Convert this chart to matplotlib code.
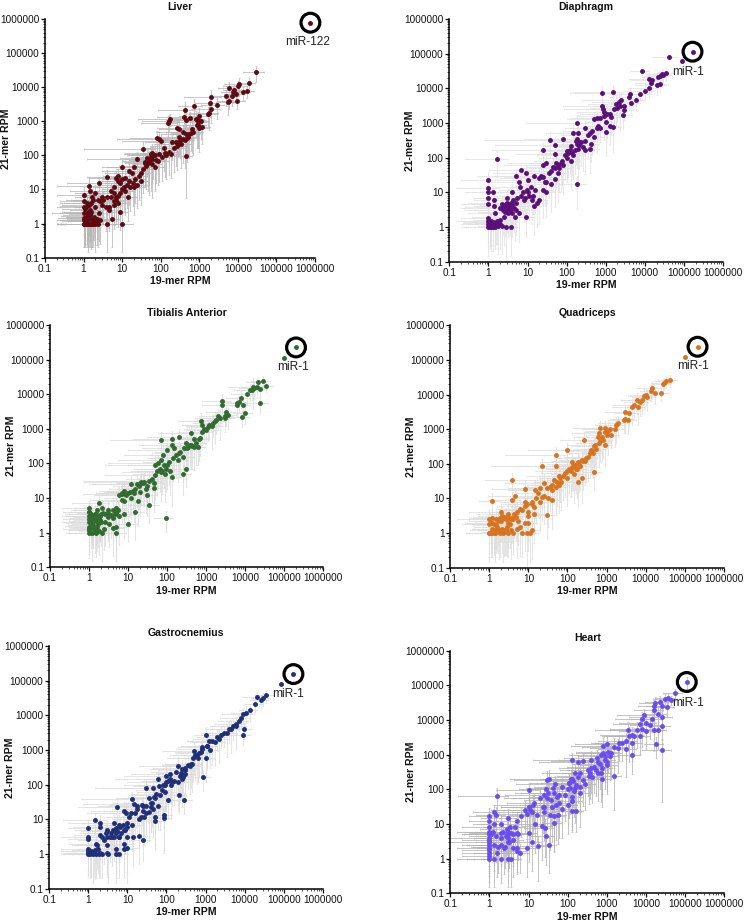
import numpy as np
import matplotlib
matplotlib.use("Agg")
import matplotlib.pyplot as plt
from matplotlib.ticker import LogLocator, NullFormatter

plt.rcParams['font.family'] = ['Liberation Sans', 'DejaVu Sans']

tick_values = [0.1, 1, 10, 100, 1000, 10000, 100000, 1000000]
tick_labels = ['0.1', '1', '10', '100', '1000', '10000', '100000', '1000000']
x_label = '19-mer RPM'
y_label = '21-mer RPM'

# ---------- Liver ----------
liver_x = [760000,30000,19000,17000,14000,11000,10000,9500,9000,8000,
7500,7000,6000,6000,5500,4800,2800,2000,2000,1900,
1800,1700,720,420,1000,900,1100,800,1200,900,
1000,580,400,450,170,160,150,300,270,440,
380,300,320,420,500,600,650,250,200,280,
440,90,100,80,60,35,120,130,160,90,
70,55,50,48,60,70,55,45,38,40,
25,20,10,15,12,8,18,22,28,30,
20,15,10,8,6,7,4,2.5,1.4,5,
6,10,12,9,14,7,6,8,4,3,
2,1.7,1,1.5,1.2,1,4.5,3,9,10,
4,5.5,2.5,2,1.5,1.2,1,1,1.1,1.3,
1.6,2,2.4,1,1.2,1.5,1.8,2.2,1.4,1.1]
liver_y = [780000,28000,13500,8000,7000,12000,11000,3900,6200,8500,
7000,5500,9500,3900,3800,5600,3000,5200,2300,3400,
1800,1600,2800,2200,1400,1100,1000,1200,700,800,
650,1250,1300,1100,1200,1000,900,600,650,430,
500,350,280,280,350,450,600,250,240,220,
95,300,270,330,120,155,170,120,130,110,
100,90,70,60,55,45,110,85,65,60,
80,45,45,35,22,25,30,20,25,18,
12,18,20,18,12,22,24,15,13,9,
8,10,9,15,6,6,3.5,4,6,6,
8,6,7,9,4,4.5,2.5,3.5,2.2,1,
1,1.4,2,3,2.5,2,2,1.5,1.2,1,
1,1,1,1,1.6,1.4,1.3,1.4,1.9,2.6]
liver_xe = [0,55,50,50,50,60,60,60,50,50,
50,50,50,50,50,50,60,80,70,60,
70,70,60,80,70,70,60,70,60,60,
60,70,80,70,85,80,80,70,70,60,
80,70,70,70,70,70,60,70,80,70,
50,92,90,80,80,97,70,70,70,80,
80,70,70,70,70,70,80,80,70,70,
95,80,70,80,80,60,80,70,60,60,
80,80,70,70,70,80,70,85,85,70,
80,70,70,60,60,60,60,60,70,80,
70,50,80,70,80,75,60,60,50,90,
60,60,60,70,70,80,85,70,75,80,
70,60,50,80,70,75,70,60,70,75]
liver_ye = [0,50,40,40,40,50,40,40,40,40,
50,50,50,40,60,50,60,60,60,60,
70,60,60,70,70,70,70,70,70,80,
80,50,50,60,40,50,60,80,80,80,
60,70,70,85,70,70,80,80,70,60,
94,60,60,60,80,60,80,80,80,85,
90,90,90,85,90,80,60,70,80,80,
60,70,60,70,80,60,70,80,80,80,
85,80,70,70,70,60,60,60,70,70,
80,80,80,70,80,80,80,80,70,70,
70,70,70,70,70,70,70,70,70,85,
85,85,85,80,80,80,75,70,80,85,
82,85,80,80,80,80,75,75,75,70]
liver_more_x = [1,1.1,1.2,1.3,1.4,1.5,1.6,1.7,1.8,2,
1,1.1,1.2,1.3,1.4,1.5,1.6,1.9,2.2,2.6,
1,1.2,1.4,1.6,1.8,2.3,2.7,3.2,3.8,4.5,
5,6,7,8,9,11,13,16,19,24,
30,35,42,50,58,65,75,85,110,140,
180,220,260,330,380,480,550,700,850,950]
liver_more_y = [1,1,1,1,1,1,1,1,1,1.2,
1.3,1.5,1.3,1.7,2.2,1.8,2.2,1.6,1.2,1.3,
3,3.2,3.4,4,5,5,4.5,5,3,3,
6,4.5,5,6.5,8,12,14,12,16,14,
30,40,50,70,80,100,75,70,90,100,
110,160,190,220,300,330,420,500,800,950]

# ---------- Diaphragm ----------
dia_x = [166000,41000,87000,8500,27000,24000,22000,30000,35000,13000,
15000,14000,25000,20000,13000,10000,7500,4300,800,1500,
4000,6000,2500,2200,4500,3000,2000,3000,1600,800,
850,900,1300,2700,1400,1000,700,600,500,1300,
1500,1000,650,180,700,300,200,150,400,500,
200,300,38,80,420,400,300,200,180,130,
100,150,100,130,50,25,1.7,50,180,70,
60,80,50,30,25,40,60,25,20,15,
50,30,40,30,25,7,9,5,6,10,
1,1,1,1.3,1,1.4,1,1.4,3,4,
7,10,14,20,15,8,5,3,2.5,3,
2,4,3.2,2.5,4,6,9,1.5,2.8,3.8,
1,1,1.2,1.5,1.8,2.2,1.1,1.3,1.6,2]
dia_y = [114000,81000,60000,31000,26000,22000,21000,24000,27000,19000,
17000,14000,13000,12500,10500,8500,7000,7000,7200,8000,
5500,4500,4500,4000,3800,3000,2700,2400,2500,3000,
2500,2100,1800,1700,1500,1100,1400,1400,1300,800,
750,550,800,1000,700,700,500,500,500,400,
300,300,320,350,250,180,170,180,250,220,
160,120,100,80,230,170,92,130,17,70,
60,60,50,70,60,40,35,28,26,30,
25,20,18,10,12,45,35,30,20,22,
23,13,10,10,7,6,4.5,4,7,10,
8,10,8,6,4,6,5,5,3.8,3,
3.5,3.5,2.5,2,2.5,2.5,2,2.5,1,1,
1.5,1,1.2,1,1.1,1.1,1,1.4,1.3,1.2]
dia_xe = [0,60,0,50,60,60,60,60,50,70,
70,60,60,70,70,70,70,70,85,90,
70,70,90,80,70,70,80,70,80,90,
90,80,70,70,70,70,70,80,80,60,
60,60,60,95,70,70,70,80,70,70,
80,80,98,90,60,70,70,70,70,80,
80,70,80,70,97,95,85,90,70,80,
80,80,85,90,90,85,80,90,90,90,
80,80,80,70,70,85,85,90,80,85,
80,85,75,70,60,70,80,70,85,85,
80,80,70,60,60,70,85,90,90,92,
90,85,80,85,80,70,60,80,60,60,
85,80,75,70,70,60,75,70,70,60]
dia_ye = [5,0,0,40,40,40,40,40,40,50,
50,50,40,50,50,40,40,50,60,60,
50,50,60,60,50,60,60,50,60,60,
70,70,70,60,70,70,70,60,60,70,
80,80,60,70,60,60,70,70,70,60,
70,70,70,70,70,80,80,90,80,80,
85,80,80,85,70,60,70,70,80,85,
80,85,85,70,70,80,85,80,80,70,
85,85,85,80,85,60,70,60,70,70,
65,60,60,50,60,60,70,70,70,70,
70,70,70,80,85,75,75,75,70,75,
70,75,80,85,80,85,75,75,95,85,
80,85,80,75,85,85,75,80,75,80]
dia_more_x = [1,1.1,1.2,1,1.1,1.2,1.3,1.5,1.7,2,
2.3,2.5,2.8,3,3.3,3.6,2.2,2.7,3.1,3.5,
4,4.5,5,5.5,3.8,4.2,4.8,6.5,7.5,8.5,
9.5,11,12,13,16,18,22,28,35,45,
55,65,75,90,110,120,140,160,170,190,
210,240,270,350,450,600,900,1100,1800,2300]
dia_more_y = [1.2,1.4,1,1.8,1.3,1.5,1,1.2,1.5,1.6,
3,4,4.5,3.5,4,3,4.5,2.8,4.2,2.8,
4.2,3.5,3,7,5,6,2,14,10,7,
12,8,14,6,12,5,30,20,35,55,
70,50,80,120,140,170,140,170,300,350,
230,280,200,450,600,700,1600,1800,3500,3000]

# ---------- Tibialis Anterior ----------
tib_x = [200000,100000,21000,28000,35000,20000,17000,24000,15000,13000,
11000,8000,2600,2600,7000,6000,6000,9000,24000,10000,
8500,3300,3600,3000,3000,2000,1800,1500,1200,1100,
900,800,750,800,1000,700,400,500,400,350,
300,600,200,130,70,130,150,200,250,100,
80,50,60,70,100,120,90,70,130,250,
300,50,35,25,20,12,45,28,20,14,
10,7,7,35,30,18,12,8,5,4,
15,92,10,3,2.2,1.8,1,1,1.5,3,
6,8,5,5,4,1,1,1.5,2,2.5,
1,1,1.2,1.5,1.8,2.2,1,1.3,1.6,2.4,
1.2,1.9]
tib_y = [225000,115000,23000,24000,17000,16000,15000,14000,13500,13000,
10000,8000,6500,5000,6000,5500,4800,5000,5500,2800,
2200,3000,2500,2400,2000,2300,1800,1500,1300,1100,
1000,1300,1700,800,900,550,750,500,350,300,
400,300,600,500,480,350,280,200,150,250,
170,90,100,130,90,60,50,55,40,50,
70,45,32,30,25,26,20,18,15,14,
14,13,9,6.5,12,8,10,8,5,4.5,
4,2.7,1.8,4.5,5,7,5,4,3.5,2.8,
3,3.5,1.5,1,1.4,3,2,2.2,2,2,
1.5,1.2,1,1,1.1,1,1,1.4,1.5,1.3,
2.5,3]
tib_xe = [0,0,50,50,50,60,60,50,60,60,
60,60,70,70,60,60,70,50,60,50,
50,70,60,60,70,70,70,70,80,70,
70,70,75,75,70,70,85,75,80,75,
80,65,85,90,95,85,85,80,80,90,
90,95,95,92,90,85,85,90,70,60,
60,95,98,97,95,90,85,80,85,85,
85,90,85,80,85,80,80,80,85,90,
70,50,70,85,80,80,80,70,75,85,
85,80,75,75,85,80,80,80,85,85,
70,70,75,70,70,80,75,75,75,80,
75,85]
tib_ye = [10,0,40,40,30,50,50,40,50,50,
50,50,60,50,50,50,50,50,50,50,
50,60,60,50,60,60,60,60,60,60,
60,60,70,60,60,70,70,70,80,75,
70,70,70,70,70,80,80,80,80,85,
85,85,80,70,80,80,85,85,85,75,
70,80,80,80,75,75,80,80,80,85,
80,75,80,70,75,80,75,75,85,85,
85,60,70,85,75,70,60,70,70,80,
85,80,90,85,85,70,80,80,80,80,
80,85,85,80,80,85,75,75,80,75,
75,80]
tib_more_x = [1,1.1,1.2,1,1.1,1.3,1.4,1.5,1.7,1.9,
1,1.2,1.4,1.6,1.8,2,2.3,2.6,3,3.3,
3.6,4,4.5,5,5.5,6,7,8,9,11,
13,15,17,19,22,24,30,40,45,55,
65,75,85,95,110,140,170,190,220,270,
320,380,430,480,550,650,1400,1700,2300,16000]
tib_more_y = [1.3,1.6,1.9,2.5,3.5,1.7,1.2,2.6,1.8,2.4,
4,3,3.5,4.5,2.8,3.4,3.8,3.5,3.8,1.8,
3.2,2.6,3.5,3.8,4.5,12,14,16,12,15,
16,18,25,22,30,28,22,35,28,60,
70,60,90,70,110,140,170,130,220,280,
280,350,330,300,400,520,1200,1700,2100,16500]

# ---------- Quadriceps ----------
quad_x = [214000,102000,42000,33000,28000,30000,25000,17000,15000,14000,
10000,11000,9000,8000,7000,6000,5000,6500,4500,3800,
3000,3000,3500,2800,2000,1700,1600,1200,900,700,
650,1000,1300,900,800,900,600,700,500,450,
260,100,50,400,300,250,200,130,180,120,
100,150,470,230,190,50,22,60,45,70,
100,60,50,40,25,30,20,15,8,3.8,
25,32,40,20,30,12,8,10,4.5,3.8,
1.2,14,5,4,3,2.5,2,1.5,1,1,
1.2,1,1.4,1.8,2.2,2.8,3.5,4,5,7,
9,11,12,8,10,6,2,3,3.5,1.2,
1.6,2.5]
quad_y = [240000,120000,27000,25000,20000,22000,11000,11000,15000,13000,
10000,8500,9000,7000,6000,7000,5000,4300,4300,3000,
3200,2000,1800,1900,1500,1300,1000,1000,1100,1050,
800,700,700,850,500,350,600,450,350,200,
480,250,185,250,150,120,100,110,70,75,
60,50,58,38,30,85,85,45,35,30,
40,25,22,18,28,20,20,18,19,33,
12,10,9,8,3.3,8,6,4,12,9,
8.5,3.5,4,2.5,3.5,3,4,2.5,2.5,1.8,
1.3,1,1,1.2,1,1.5,1.2,1,1.3,1,
1,1,1.2,2,2,1.5,2.2,2,2.5,2,
1.5,1.2]
quad_xe = [0,0,50,50,50,50,60,50,60,50,
60,60,60,70,60,60,70,50,70,60,
70,60,60,60,70,70,70,80,70,80,
80,70,60,70,75,50,75,70,80,75,
75,90,95,70,85,85,85,85,80,85,
85,75,50,60,60,90,95,85,85,80,
80,85,85,85,90,85,85,80,85,80,
70,50,50,70,50,80,80,70,80,75,
55,80,80,85,85,85,85,80,85,80,
70,70,70,70,70,75,75,80,80,70,
60,60,55,60,65,80,85,85,80,80,
75,80]
quad_ye = [0,0,40,40,40,40,40,50,50,50,
50,60,60,60,60,60,60,70,70,60,
60,60,60,60,60,70,70,60,60,60,
70,60,60,65,70,75,70,75,75,80,
60,60,70,80,80,85,85,85,85,85,
85,85,70,80,80,70,65,80,80,85,
85,85,85,85,80,85,85,85,75,60,
85,85,85,85,80,75,75,85,70,70,
65,85,85,80,80,80,75,75,80,85,
80,85,85,85,85,85,85,75,85,80,
90,85,85,85,85,85,75,80,80,75,
80,80]
quad_more_x = [1,1.1,1.2,1.3,1.4,1.5,1.1,1.2,1.3,1.5,
1.7,1.9,2.1,2.4,2.7,3,3.3,1.7,1.9,2.1,
2.4,2.7,3.2,3.7,4.2,4.8,5.5,6,7,8,
9,10,12,14,16,18,22,35,40,55,
65,75,85,110,120,140,160,170,190,210,
240,280,330,370,420,480,550,650,750,1100]
quad_more_y = [1,1,1,1.2,1,1.3,2,2.8,1.8,1.7,
1.3,1,1.3,1.1,1.2,1,1.8,2.2,2.8,3.2,
2.8,2.5,2.8,2.8,3.5,3,2.2,5,4.5,8,
7,3.2,7,5.5,10,14,11,22,25,30,
40,45,55,70,60,85,90,70,110,85,
130,120,160,200,230,320,270,400,600,900]

# ---------- Gastrocnemius ----------
gas_x = [178000,87000,36000,30000,27000,21000,19000,14000,11000,9000,
8000,7000,6000,5000,4000,9500,9000,3000,2500,2000,
1000,1200,1100,800,500,1300,700,1000,850,600,
450,400,300,250,200,300,250,200,280,210,
120,100,100,130,80,60,45,30,90,70,
110,50,40,45,30,35,25,13,15,18,
23,85,85,50,50,27,20,12,9,5.5,
8,4.5,6,10,1.5,1,2,2,3,8,
5,4,3,2.3,1,1,6,10,14,20,
25,3,1.6,8,10,8,5,6,5,3,
3.2,2,1,1,1,1.3,1.6,1.9,2.3,1.5,
1.2,1.8]
gas_y = [155000,81000,38000,32000,28000,34000,21000,14000,12000,11000,
8500,7000,5500,5000,4000,4000,2800,3000,2800,2300,
2800,1800,1300,1200,950,1000,800,600,165,700,
400,350,300,280,350,200,150,120,36,50,
200,180,120,100,100,150,80,80,60,50,
35,40,30,20,25,16,18,38,27,25,
26,13,11,12,9,12,10,15,15,22,
18,8,7,8,9.5,5.8,8,6,5,5,
4,3,3,3,3,2.7,3,3,3,3.4,
2.6,1.8,2,2,1.5,1.4,1.4,1,1,1.1,
1,1.1,1.4,1.2,1,1,1,1,1,1.3,
1.1,1.4]
gas_xe = [0,0,50,50,50,60,50,50,60,70,
70,70,70,70,70,50,50,70,70,70,
50,70,70,75,85,60,75,70,50,75,
80,80,85,85,90,80,85,85,60,50,
90,92,90,80,90,92,95,95,80,85,
70,90,90,85,90,80,90,95,95,90,
85,60,50,80,80,80,80,90,90,90,
85,85,85,75,85,70,85,80,85,70,
85,85,85,80,80,70,80,70,60,60,
50,85,80,75,75,70,70,70,75,85,
80,80,80,80,80,70,75,70,70,75,
75,70]
gas_ye = [5,0,40,40,40,40,40,50,50,50,
50,50,50,60,60,50,50,60,60,60,
60,70,75,80,80,70,80,80,60,85,
85,85,85,85,80,85,85,85,60,70,
85,85,85,90,85,80,85,85,85,90,
70,85,85,85,85,85,85,65,70,75,
70,90,90,85,85,85,85,80,80,70,
75,85,85,80,60,50,70,70,80,85,
85,85,75,80,65,60,80,90,85,85,
75,85,70,85,90,85,85,80,85,80,
85,80,75,75,75,85,80,80,80,85,
80,80]
gas_more_x = [1,1.1,1.2,1.4,1.7,2,2.5,2.8,3,3.5,
3.8,4.2,4.5,5,5.5,6,6.5,7,7.5,8.5,
9.5,11,13,16,18,22,25,30,35,40,
42,48,55,60,65,75,90,110,120,140,
160,180,220,240,260,300,350,420,480,550,
650,750,800,1100,1500,1800,2200,3500,4500,6000]
gas_more_y = [1.1,1,1.2,1.1,1.8,3.5,2.5,4,4.5,3,
4,5,3.2,5.5,4.5,3,6,4,7,5,
6,12,7,15,20,12,25,15,40,22,
30,45,55,25,90,70,100,130,150,120,
130,240,180,220,170,270,370,400,600,700,
600,900,1100,1300,1800,1700,2100,3200,4000,5000]

# ---------- Heart ----------
hea_x = [110000,55000,36000,30000,44000,23000,17000,16000,25000,35000,
16000,20000,9000,8000,14000,25000,10000,7000,13000,25000,
8000,16000,6000,10000,20000,7000,5000,4500,3400,18000,
26000,4500,4500,3000,2500,2000,3000,1500,1000,800,
1100,1200,900,1000,1000,700,550,400,600,600,
700,730,1500,400,350,130,180,250,200,150,
130,110,150,200,100,130,130,160,130,33,
29,48,10,25,45,30,60,50,40,100,
70,25,13,11,8,25,35,45,55,45,
15,22,26,28,33,17,12,9,10,1.6,
1.3,1,1.5,1,1.3,2,3,5,6.5,1,
1,1,1,1,1,1,1.3,1.6,2,3,
3,3,4,5,2.5,4,6,5,2,3,
3.5,2]
hea_y = [125000,59000,43000,40000,39000,33000,30000,26000,26000,24000,
19000,15000,14000,11000,11000,12000,8000,7500,7000,6500,
5500,5000,5200,4700,5000,3500,3500,3700,5000,2000,
1400,2200,950,2500,2200,2200,1500,1700,2000,1800,
1200,900,700,600,500,1000,800,700,600,300,
290,200,250,400,250,700,600,650,300,300,
200,150,110,80,100,60,45,24,24,200,
190,140,95,70,80,55,40,35,30,35,
27,30,35,25,25,22,18,17,18,10.5,
10,9,7.5,4.5,2.5,2.3,3,2,5.5,63,
22,17,18,12,10,10,15,12,17,8,
6,4,3,2,1.5,1,1,1.5,5.5,5,
4,3,5,5.5,2.2,2,1.5,1.7,1,1,
1,2.5]
hea_xe = [5,50,50,50,50,60,60,60,60,50,
70,60,80,80,70,85,80,80,70,60,
85,70,80,80,60,80,80,85,85,50,
70,70,60,80,80,80,80,85,85,85,
85,70,80,85,80,85,85,85,80,70,
70,60,50,85,85,90,90,85,85,85,
85,90,90,85,90,85,80,50,70,90,
85,90,85,90,90,92,85,85,90,70,
70,92,90,90,85,85,80,75,60,50,
80,70,70,60,50,80,70,70,60,90,
70,70,70,70,70,70,80,80,70,80,
85,98,90,85,80,85,80,75,85,85,
85,85,85,80,85,80,75,75,80,80,
80,85]
hea_ye = [40,30,40,40,30,50,50,50,50,50,
70,60,50,60,60,50,60,60,60,60,
70,75,70,70,70,70,70,70,70,60,
97,70,70,70,70,70,85,75,75,75,
75,80,85,85,85,80,75,80,80,85,
85,85,90,80,85,60,60,60,85,85,
85,90,90,90,85,85,85,75,75,75,
80,70,60,80,85,85,90,90,90,85,
85,85,85,85,80,85,90,90,85,85,
85,90,85,85,85,90,85,85,85,70,
60,70,70,70,60,75,85,80,75,70,
80,85,80,75,75,85,85,80,85,85,
85,85,85,80,75,85,75,75,80,85,
85,75]
hea_more_x = [1,1,1,1,1,1.1,1.2,1.3,1.5,1.7,
2,2.2,2.4,2.6,2.8,3,3.2,3.4,3.6,4,
4.5,5,5.5,9,10,12,14,16,20,24,
28,32,38,42,52,60,70,85,105,115,
120,140,145,165,185,210,240,280,320,360,
420,480,520,650,750,820,900,1300,1900,3700]
hea_more_y = [1.2,1.8,2.5,3.5,5,5,6,2.5,4.5,2.2,
4,6,2,4.5,7,6,3,8,5.5,3.5,
8,2,5,20,30,22,40,18,55,30,
100,80,50,110,60,70,120,70,150,110,
200,170,90,130,220,120,180,140,350,300,
230,450,350,550,400,1100,900,1100,1600,3500]

# whisker share (percent of the value) read for the second group of points
more_xe = [80, 80, 78, 75, 78, 80]
more_ye = [80, 80, 78, 80, 80, 82]

# ---------- layout, in reference pixels ----------
W, H = 744, 923
panels = [
    dict(title='Liver', x=liver_x, y=liver_y, xe=liver_xe, ye=liver_ye,
         mx=liver_more_x, my=liver_more_y, color='#5f0a12', grey='#b8b8b8',
         box=(45, 315, 19, 257.7), name='miR-122', off=(-3, -19)),
    dict(title='Diaphragm', x=dia_x, y=dia_y, xe=dia_xe, ye=dia_ye,
         mx=dia_more_x, my=dia_more_y, color='#5b0f78', grey='#e2e2e2',
         box=(449.3, 723, 19, 261.7), name='miR-1', off=(-4, -20)),
    dict(title='Tibialis Anterior', x=tib_x, y=tib_y, xe=tib_xe, ye=tib_ye,
         mx=tib_more_x, my=tib_more_y, color='#316b2f', grey='#dcdcdc',
         box=(50, 323.3, 325, 567.3), name='miR-1', off=(-3.3, -20)),
    dict(title='Quadriceps', x=quad_x, y=quad_y, xe=quad_xe, ye=quad_ye,
         mx=quad_more_x, my=quad_more_y, color='#d8741f', grey='#dedede',
         box=(450.3, 723.7, 325.3, 567.7), name='miR-1', off=(-4.7, -19.7)),
    dict(title='Gastrocnemius', x=gas_x, y=gas_y, xe=gas_xe, ye=gas_ye,
         mx=gas_more_x, my=gas_more_y, color='#1f2f78', grey='#dcdcdc',
         box=(49.3, 322.7, 646, 888.7), name='miR-1', off=(-5, -20)),
    dict(title='Heart', x=hea_x, y=hea_y, xe=hea_xe, ye=hea_ye,
         mx=hea_more_x, my=hea_more_y, color='#6a4cf2', grey='#b4b4b4',
         box=(450.3, 724.3, 650.7, 893.3), name='miR-1', off=(1.3, -20.7)),
]

px = 72 / 100  # points per pixel at dpi 100
fig = plt.figure(figsize=(W / 100, H / 100), dpi=100, facecolor='white')

for i, p in enumerate(panels):
    l, r, t, b = p['box']
    ax = fig.add_axes([l / W, 1 - b / H, (r - l) / W, (b - t) / H])
    x = np.array(p['x'], float)
    y = np.array(p['y'], float)
    mx = np.array(p['mx'], float)
    my = np.array(p['my'], float)
    xerr = np.concatenate([x * np.array(p['xe']) / 100, mx * more_xe[i] / 100])
    yerr = np.concatenate([y * np.array(p['ye']) / 100, my * more_ye[i] / 100])
    allx = np.concatenate([x, mx])
    ally = np.concatenate([y, my])
    ax.errorbar(allx, ally, xerr=xerr, yerr=yerr, fmt='none', ecolor=p['grey'],
                elinewidth=0.55, capsize=0.6, capthick=0.4, zorder=2)
    ax.scatter(allx, ally, s=12.5, color=p['color'], linewidths=0, zorder=3)
    # ring and label on the named miRNA (first point of each series)
    ax.scatter(x[:1], y[:1], s=(18.8 * px) ** 2, facecolors='none', edgecolors='black',
               linewidths=2.3, zorder=4, clip_on=False)
    ax.annotate(p['name'], xy=(x[0], y[0]), xytext=(p['off'][0] * px, p['off'][1] * px),
                textcoords='offset points', ha='center', va='center', fontsize=8.6, color='#222222')

    ax.set_xscale('log')
    ax.set_yscale('log')
    ax.set_xlim(0.1, 1000000)
    ax.set_ylim(0.1, 1000000)
    ax.set_xticks(tick_values, tick_labels)
    ax.set_yticks(tick_values, tick_labels)
    for axis in (ax.xaxis, ax.yaxis):
        axis.set_minor_locator(LogLocator(base=10, subs=np.arange(2, 10), numticks=12))
        axis.set_minor_formatter(NullFormatter())
    ax.tick_params(which='major', length=2.6, width=0.9, pad=1.6, labelsize=7.2, colors='#111111')
    ax.tick_params(which='minor', length=1.3, width=0.5, colors='#111111')
    ax.spines['top'].set_visible(False)
    ax.spines['right'].set_visible(False)
    ax.spines['left'].set_linewidth(1.1)
    ax.spines['bottom'].set_linewidth(1.1)

    ax.annotate(p['title'], xy=(0.5, 1), xycoords='axes fraction', xytext=(0, 12.5 * px),
                textcoords='offset points', ha='center', va='center',
                fontsize=7.6, fontweight='bold', color='#111111')
    ax.annotate(x_label, xy=(0.5, 0), xycoords='axes fraction', xytext=(0, -23.5 * px),
                textcoords='offset points', ha='center', va='center',
                fontsize=7.6, fontweight='bold', color='#111111')
    ax.annotate(y_label, xy=(0, 0.5), xycoords='axes fraction', xytext=(-39 * px, 0),
                textcoords='offset points', ha='center', va='center', rotation=90,
                fontsize=7.6, fontweight='bold', color='#111111')

fig.savefig('out.png', dpi=100, facecolor='white')
